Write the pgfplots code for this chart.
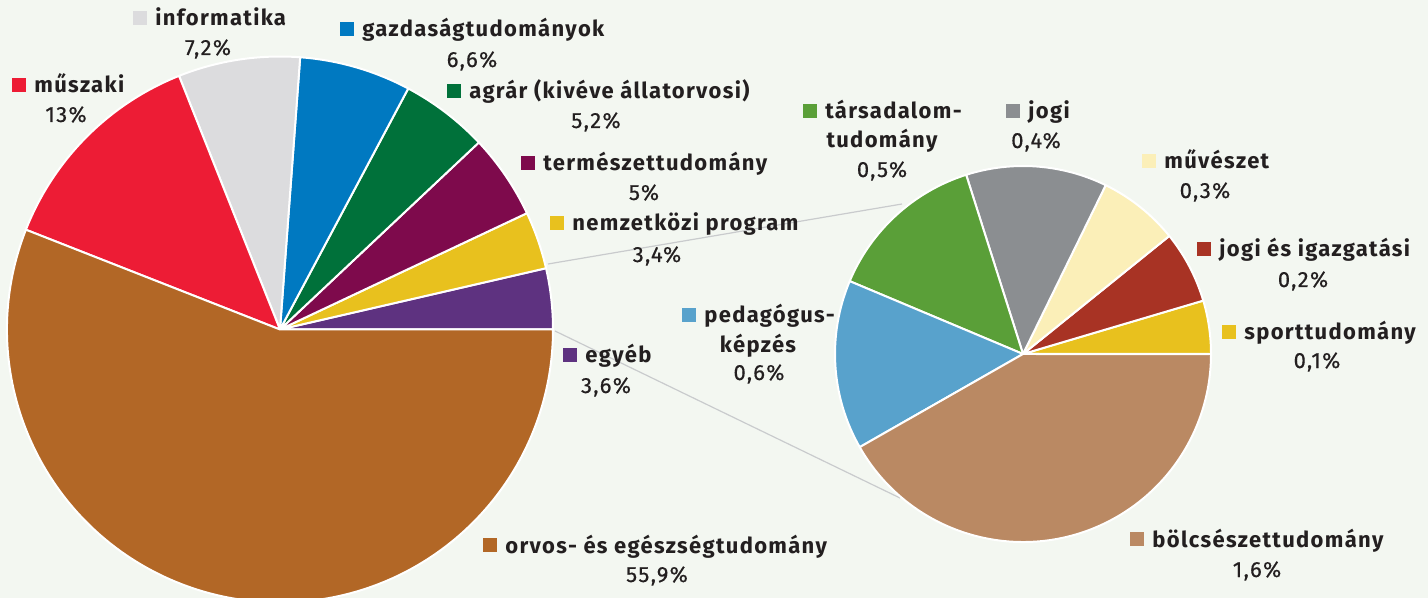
\documentclass[border=0pt]{standalone}
\usepackage{fontspec}
\setmainfont{Fira Sans}[LetterSpace=6]
\newfontfamily\medfont{Fira Sans}[LetterSpace=6, FakeBold=0.45]
\usepackage{pgfplots}
\pgfplotsset{compat=1.18}

\definecolor{bgc}{HTML}{F3F7F1}
\definecolor{txt}{HTML}{231F20}
\definecolor{linec}{HTML}{C9CBCD}
% main pie
\definecolor{cOrvos}{HTML}{B26726}
\definecolor{cMusz}{HTML}{ED1C35}
\definecolor{cInfo}{HTML}{DCDCDE}
\definecolor{cGazd}{HTML}{0079C1}
\definecolor{cAgrar}{HTML}{00713A}
\definecolor{cTerm}{HTML}{7E0A4C}
\definecolor{cNemz}{HTML}{E8C11E}
\definecolor{cEgyeb}{HTML}{5E3280}
% breakdown of "egyéb"
\definecolor{cSport}{HTML}{E8C11E}
\definecolor{cJogIg}{HTML}{A83324}
\definecolor{cMuv}{HTML}{FBEFB8}
\definecolor{cJogi}{HTML}{8B8E91}
\definecolor{cTars}{HTML}{5A9F38}
\definecolor{cPed}{HTML}{58A2CC}
\definecolor{cBolcs}{HTML}{BA8963}

\newcommand{\lblfont}{\fontsize{11}{12}\selectfont\bfseries}
\newcommand{\pctfont}{\fontsize{11}{12}\selectfont\medfont}
% name line: marker left x, baseline y (px), colour, text
\newcommand{\lab}[4]{\node[anchor=base west, inner sep=0pt, text=txt, font=\lblfont]
  at (axis cs:#1,#2) {\textcolor{#3}{\raisebox{0.4pt}{\rule{7pt}{7pt}}}\hspace{4pt}#4};}
% centred line: centre x, baseline y (px), text
\newcommand{\pct}[3]{\node[anchor=base, inner sep=0pt, text=txt, font=\pctfont]
  at (axis cs:#1,#2) {#3};}
\newcommand{\sub}[3]{\node[anchor=base, inner sep=0pt, text=txt, font=\lblfont]
  at (axis cs:#1,#2) {#3};}

\begin{document}
\begin{tikzpicture}
\begin{axis}[
  width=714pt, height=299pt, scale only axis,
  xmin=0, xmax=1428, ymin=0, ymax=598, y dir=reverse,
  hide axis, clip=true]
  \fill[bgc] (axis cs:0,0) rectangle (axis cs:1428,598);

  % connector lines
  \draw[linec, line width=0.6pt] (axis cs:548,264) -- (axis cs:902,204);
  \draw[linec, line width=0.6pt] (axis cs:555,331) -- (axis cs:900,498);

  % main pie, shares in %
  \gdef\cum{0}
  \foreach \v/\c in {3.6/cEgyeb, 3.4/cNemz, 5/cTerm, 5.2/cAgrar, 6.6/cGazd,
                     7.2/cInfo, 13/cMusz, 55.9/cOrvos}{
    \pgfmathsetmacro\a{\cum}
    \pgfmathsetmacro\b{\cum+\v*3.6036}
    \edef\temp{\noexpand\fill[\c, draw=white, line width=1pt, line join=round]
      (axis cs:280,329.5) -- ++(\a:136.5pt) arc[start angle=\a, end angle=\b, radius=136.5pt] -- cycle;}
    \temp
    \xdef\cum{\b}
  }

  % second pie, shares of the 3.6 % "egyéb"
  \gdef\cum{0}
  \foreach \v/\c in {0.165/cSport, 0.224/cJogIg, 0.25/cMuv, 0.437/cJogi,
                     0.496/cTars, 0.525/cPed, 1.503/cBolcs}{
    \pgfmathsetmacro\a{\cum}
    \pgfmathsetmacro\b{\cum+\v*100}
    \edef\temp{\noexpand\fill[\c, draw=white, line width=1pt, line join=round]
      (axis cs:1023,354) -- ++(\a:94pt) arc[start angle=\a, end angle=\b, radius=94pt] -- cycle;}
    \temp
    \xdef\cum{\b}
  }

  % labels, main pie
  \lab{133}{26}{cInfo}{informatika}      \pct{208}{55}{7,2\%}
  \lab{12}{93}{cMusz}{műszaki}           \pct{66}{122}{13\%}
  \lab{340}{37}{cGazd}{gazdaságtudományok} \pct{472}{67}{6,6\%}
  \lab{447}{99}{cAgrar}{agrár (kivéve állatorvosi)} \pct{596}{128}{5,2\%}
  \lab{521}{171}{cTerm}{természettudomány} \pct{644}{200}{5\%}
  \lab{550}{231}{cNemz}{nemzetközi program} \pct{657}{262}{3,4\%}
  \lab{563}{363}{cEgyeb}{egyéb}          \pct{606}{393}{3,6\%}
  \lab{483}{553}{cOrvos}{orvos- és egészségtudomány} \pct{657}{582}{55,9\%}

  % labels, second pie
  \lab{803}{119}{cTars}{társadalom-} \sub{882}{148}{tudomány} \pct{882}{177}{0,5\%}
  \lab{1006}{119}{cJogi}{jogi}       \pct{1036}{148}{0,4\%}
  \lab{1142}{169}{cMuv}{művészet}    \pct{1205}{198}{0,3\%}
  \lab{1197}{257}{cJogIg}{jogi és igazgatási} \pct{1303}{287}{0,2\%}
  \lab{1222}{340}{cSport}{sporttudomány} \pct{1317}{368}{0,1\%}
  \lab{682}{323}{cPed}{pedagógus-} \sub{758}{352}{képzés} \pct{759}{380}{0,6\%}
  \lab{1130}{547}{cBolcs}{bölcsészettudomány} \pct{1257}{577}{1,6\%}
\end{axis}
\pgfresetboundingbox
\path (0,0) rectangle (714pt,299pt);
\end{tikzpicture}
\end{document}
